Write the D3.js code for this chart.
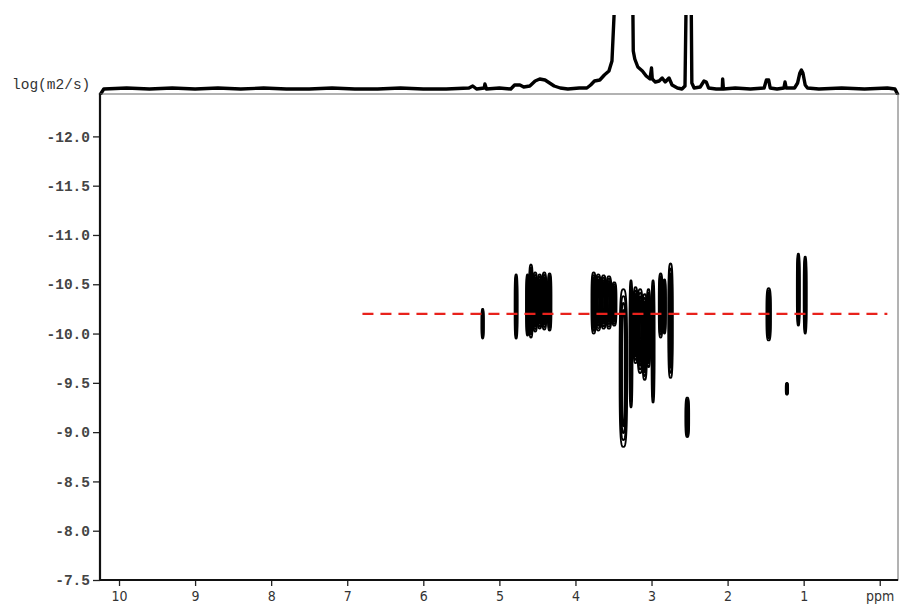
<!DOCTYPE html>
<html>
<head>
<meta charset="utf-8">
<script src="https://cdn.jsdelivr.net/npm/d3@7"></script>
<style>
  body { margin: 0; background: #fff; }
  svg { display: block; }
</style>
</head>
<body>
<svg id="chart" width="901" height="605"></svg>
<script>
// axis ticks
let ppmTicks = [10, 9, 8, 7, 6, 5, 4, 3, 2, 1, 0];
let logDTicks = [-12.0, -11.5, -11.0, -10.5, -10.0, -9.5, -9.0, -8.5, -8.0, -7.5];

let ppmDomain = [10.25, -0.24];
let logDDomain = [-12.43, -7.5];

// 1D projection on top: [ppm, intensity]
let spectrum = [
  [10.25, -4], [10.2, 2], [9.9, 3], [9.6, 2], [9.3, 3], [9.0, 2], [8.7, 3], [8.4, 2],
  [8.1, 3], [7.8, 2], [7.5, 2], [7.2, 3], [6.9, 2], [6.6, 2], [6.3, 3], [6.0, 2],
  [5.7, 2], [5.4, 3], [5.35, 5], [5.3, 2], [5.2, 3], [5.19, 7], [5.17, 2], [5.0, 3],
  [4.85, 2], [4.8, 6], [4.73, 6], [4.68, 4], [4.6, 5], [4.53, 10], [4.47, 12], [4.4, 11],
  [4.34, 8], [4.28, 5], [4.2, 3], [4.1, 2], [3.95, 3], [3.85, 3], [3.8, 6], [3.75, 10],
  [3.68, 11], [3.62, 16], [3.56, 20], [3.52, 30], [3.49, 80], [3.46, 200], [3.26, 200],
  [3.24, 40], [3.22, 32], [3.18, 24], [3.12, 20], [3.07, 15], [3.02, 12], [3.0, 23],
  [2.99, 12], [2.95, 9], [2.9, 10], [2.86, 13], [2.82, 9], [2.77, 13], [2.73, 6],
  [2.66, 3], [2.6, 2], [2.56, 5], [2.54, 120], [2.53, 200], [2.49, 200], [2.47, 8],
  [2.44, 3], [2.36, 4], [2.31, 10], [2.28, 9], [2.25, 3], [2.15, 2], [2.07, 2],
  [2.065, 12], [2.055, 2], [1.9, 3], [1.7, 2], [1.52, 3], [1.49, 11], [1.46, 11],
  [1.44, 3], [1.35, 2], [1.26, 3], [1.245, 9], [1.23, 3], [1.12, 3], [1.08, 8],
  [1.05, 18], [1.03, 21], [1.01, 18], [0.98, 6], [0.95, 3], [0.8, 2], [0.5, 3],
  [0.2, 2], [-0.1, 3], [-0.2, 2], [-0.24, -4]
];

// DOSY cross peaks: [ppm, half width (ppm), top logD, bottom logD]
let peaks = [
  [5.22, 0.015, -10.25, -9.95],
  [4.78, 0.02, -10.60, -9.95],
  [4.63, 0.02, -10.60, -9.98],
  [4.585, 0.025, -10.70, -9.96],
  [4.53, 0.03, -10.62, -10.02],
  [4.47, 0.03, -10.60, -10.05],
  [4.41, 0.03, -10.62, -10.04],
  [4.34, 0.025, -10.61, -10.03],
  [3.76, 0.03, -10.62, -10.00],
  [3.70, 0.035, -10.60, -10.03],
  [3.63, 0.035, -10.59, -10.05],
  [3.56, 0.035, -10.58, -10.05],
  [3.49, 0.03, -10.52, -10.08],
  [3.37, 0.05, -10.45, -8.85],
  [3.27, 0.02, -10.54, -9.25],
  [3.21, 0.03, -10.47, -9.70],
  [3.15, 0.035, -10.45, -9.60],
  [3.09, 0.03, -10.40, -9.53],
  [3.04, 0.025, -10.45, -9.66],
  [2.98, 0.02, -10.54, -9.30],
  [2.88, 0.025, -10.61, -9.96],
  [2.83, 0.02, -10.55, -10.00],
  [2.75, 0.03, -10.71, -9.55],
  [2.53, 0.025, -9.35, -8.95],
  [1.46, 0.03, -10.46, -9.93],
  [1.07, 0.02, -10.81, -10.08],
  [0.98, 0.02, -10.78, -10.00],
  [1.22, 0.01, -9.50, -9.38]
];
let contourLevels = [1, 0.78, 0.56, 0.34];

// fitted diffusion coefficient line
let fitLogD = -10.2;
let fitRange = [6.8, -0.1];

var svg = d3.select("#chart");

var x = d3.scaleLinear().domain(ppmDomain).range([100, 898]);
var y = d3.scaleLinear().domain(logDDomain).range([94, 580]);
var ySpec = d3.scaleLinear().domain([0, 76]).range([91, 15]);

// top projection, clipped at the top
svg.append("clipPath").attr("id", "specClip")
  .append("rect").attr("x", 98).attr("y", 15).attr("width", 802).attr("height", 80);

var specLine = d3.line()
  .x(function (d) { return x(d[0]); })
  .y(function (d) { return ySpec(d[1]); });

svg.append("path")
  .datum(spectrum)
  .attr("clip-path", "url(#specClip)")
  .attr("fill", "none")
  .attr("stroke", "#000")
  .attr("stroke-width", 3.4)
  .attr("stroke-linejoin", "round")
  .attr("d", specLine);

// frame
svg.append("rect")
  .attr("x", x.range()[0]).attr("y", y.range()[0])
  .attr("width", x.range()[1] - x.range()[0])
  .attr("height", y.range()[1] - y.range()[0])
  .attr("fill", "none")
  .attr("stroke", "#666")
  .attr("stroke-width", 1);

// contours
function blobPath(p, s) {
  var cx = x(p[0]);
  var rx = Math.max(1.2, Math.abs(x(p[0] + p[1]) - cx)) * s;
  var cy = (y(p[2]) + y(p[3])) / 2;
  var ry = Math.abs(y(p[3]) - y(p[2])) / 2 * (0.6 + 0.4 * s);
  var n = 3.2;
  var pts = d3.range(0, 2 * Math.PI, Math.PI / 30).map(function (t) {
    var c = Math.cos(t), sn = Math.sin(t);
    return [
      cx + rx * Math.sign(c) * Math.pow(Math.abs(c), 2 / n),
      cy + ry * Math.sign(sn) * Math.pow(Math.abs(sn), 2 / n)
    ];
  });
  return d3.line().curve(d3.curveLinearClosed)(pts);
}

var contourG = svg.append("g").attr("class", "contours");
peaks.forEach(function (p) {
  contourLevels.forEach(function (s) {
    contourG.append("path")
      .attr("d", blobPath(p, s))
      .attr("fill", "none")
      .attr("stroke", "#000")
      .attr("stroke-width", 1.8);
  });
});

// dashed fit line
svg.append("line")
  .attr("x1", x(fitRange[0])).attr("x2", x(fitRange[1]))
  .attr("y1", y(fitLogD)).attr("y2", y(fitLogD))
  .attr("stroke", "#e8221c")
  .attr("stroke-width", 2.2)
  .attr("stroke-dasharray", "11,7");

// axes
var xMinor = d3.range(-2, 103).map(function (i) { return i / 10; });
var yMinor = d3.range(-124, -74).map(function (i) { return i / 10; });

var xAxisG = svg.append("g").attr("transform", "translate(0," + y.range()[1] + ")");
xAxisG.call(d3.axisBottom(x).tickValues(xMinor).tickSize(3).tickFormat(""));
xAxisG.call(
  d3.axisBottom(x).tickValues(ppmTicks).tickSize(6).tickPadding(5)
    .tickFormat(function (d) { return d === 0 ? "ppm" : d; })
);

var yAxisG = svg.append("g").attr("transform", "translate(" + x.range()[0] + ",0)");
yAxisG.call(d3.axisLeft(y).tickValues(yMinor).tickSize(3).tickFormat(""));
yAxisG.call(
  d3.axisLeft(y).tickValues(logDTicks).tickSize(7).tickPadding(3)
    .tickFormat(function (d) { return d.toFixed(1); })
);

svg.selectAll(".domain").remove();
svg.selectAll(".tick line").attr("stroke", "#222").attr("stroke-width", 1.3);

xAxisG.selectAll("text")
  .attr("font-family", "'Liberation Sans Narrow', 'DejaVu Sans Condensed', 'Liberation Sans', sans-serif")
  .attr("font-size", 14)
  .attr("fill", "#333");

yAxisG.selectAll("text")
  .attr("font-family", "'Liberation Mono', 'DejaVu Sans Mono', monospace")
  .attr("font-size", 14.5)
  .attr("font-weight", "bold")
  .attr("fill", "#444");

// thick left and bottom axis lines
svg.append("line")
  .attr("x1", x.range()[0]).attr("x2", x.range()[0])
  .attr("y1", y.range()[0]).attr("y2", y.range()[1])
  .attr("stroke", "#111").attr("stroke-width", 2.2);
svg.append("line")
  .attr("x1", x.range()[0]).attr("x2", x.range()[1])
  .attr("y1", y.range()[1]).attr("y2", y.range()[1])
  .attr("stroke", "#111").attr("stroke-width", 2.2);

svg.append("text")
  .attr("x", 12).attr("y", 89)
  .attr("font-family", "'Liberation Mono', 'DejaVu Sans Mono', monospace")
  .attr("font-size", 14.5)
  .attr("fill", "#333")
  .text("log(m2/s)");
</script>
</body>
</html>
